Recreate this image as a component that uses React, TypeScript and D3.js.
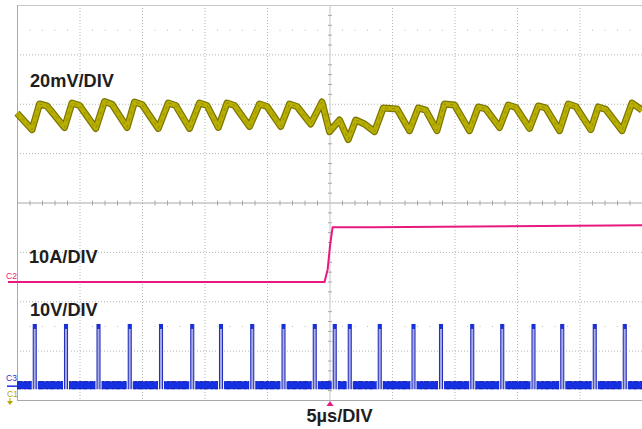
import * as d3 from "d3";

// time axis: 5 µs / div, 10 divs, trigger at centre
const timeDomain = [-25, 25];

// C1 - output ripple, mV (20mV/DIV)
const rippleTime = [
  -25.0, -23.8, -23.2, -22.6, -21.2, -20.6, -20.0, -18.7, -18.0, -17.4, -16.2, -15.6, -15.0,
  -13.7, -12.9, -12.3, -11.2, -10.4, -9.8, -8.9, -8.2, -7.6, -6.4, -5.6, -5.0, -3.9, -3.2,
  -2.6, -1.5, -0.6, 0.0, 0.8, 1.5, 2.1, 2.8, 3.6, 4.3, 5.4, 6.4, 7.1, 7.7, 8.6, 9.2, 10.0,
  11.2, 11.9, 12.5, 13.6, 14.3, 14.9, 16.0, 16.7, 17.3, 18.4, 19.1, 19.7, 20.9, 21.5, 22.1,
  23.4, 24.2, 25.0,
];
const rippleMv = [
  -0.6, -7.3, 3.1, 2.3, -6.4, 3.5, 2.5, -6.8, 4.1, 3.0, -6.4, 3.9, 2.9,
  -6.8, 3.5, 2.5, -6.8, 3.5, 2.5, -6.4, 3.5, 2.5, -6.0, 3.1, 2.1, -6.0, 3.1,
  2.1, -5.0, 3.9, -8.1, -3.4, -11.3, -3.4, -5.0, -8.1, 1.5, 1.1, -7.7, 1.5, 0.6, -7.7, 3.1, 2.7,
  -7.7, 1.9, 1.1, -6.4, 2.7, 1.7, -6.8, 2.3, 1.5, -7.7, 3.1, 2.1, -7.3, 1.9, 0.9,
  -7.7, 3.5, 0.6,
];

// C2 - inductor / load current, A (10A/DIV)
const currentTime = [-25, -0.4, -0.15, 0.05, 0.25, 3.5, 25];
const currentAmps = [0, 0, 2.5, 7.5, 11.1, 11.1, 11.5];

// C3 - switch node, V (10V/DIV)
const swStarts = [
  -23.7, -21.2, -18.6, -16.1, -13.6, -11.1, -8.8, -6.3, -3.8, -1.3, 0.3,
  1.5, 3.9, 6.6, 8.8, 11.3, 13.7, 16.2, 18.5, 21.1, 23.5,
];
const swOnTime = 0.16;
const swHigh = 12.4;
const swLow = 0;

const labels = { c1: "20mV/DIV", c2: "10A/DIV", c3: "10V/DIV", time: "5µs/DIV" };

const App = () => {
  const width = 642;
  const height = 429;
  const left = 17;
  const right = 642;
  const top = 5;
  const bottom = 400;

  const x = d3.scaleLinear().domain(timeDomain).range([left, right]);
  const div = d3.scaleLinear().domain([-4, 4]).range([bottom, top]);
  const divH = (bottom - top) / 8;

  // channel offset (divs) and scale (units/div)
  const y1 = (v: number) => div(1.84 + v / 20);
  const y2 = (v: number) => div(-1.61 + v / 10);
  const y3 = (v: number) => div(-3.7 + v / 10);

  const xTicks = d3.range(-25, 25.01, 5);
  const yTicks = d3.range(-4, 4.01, 1);
  const minorX = d3.range(-25, 25.01, 1);
  const minorY = d3.range(-4, 4.01, 0.2);

  const ripple = rippleTime.map((t, i) => [t, rippleMv[i]] as [number, number]);
  const current = currentTime.map((t, i) => [t, currentAmps[i]] as [number, number]);

  const line1 = d3.line<[number, number]>().x(d => x(d[0])).y(d => y1(d[1]));
  const line2 = d3.line<[number, number]>().x(d => x(d[0])).y(d => y2(d[1]));

  const grid = "#b4b4b4";
  const font = "'Liberation Sans', Arial, sans-serif";

  // sparse dot rows (half divisions)
  const dotRows = [div(3.5), div(-2.5)];
  const dotXs = minorX.filter(t => t % 5 !== 0).map(t => x(t));

  return (
    <svg width={width} height={height} style={{ position: "fixed", left: 0, top: 0, background: "#fff" }}>
      {/* grid */}
      <g>
        {xTicks.filter(t => t !== 0 && t !== -25 && t !== 25).map(t => (
          <line key={"vx" + t} x1={x(t) + 0.5} x2={x(t) + 0.5} y1={top} y2={bottom} stroke={grid} strokeDasharray="1 2" />
        ))}
        {yTicks.filter(v => v !== 0 && v !== -4 && v !== 4).map(v => (
          <line key={"hy" + v} x1={left} x2={right} y1={div(v) + 0.5} y2={div(v) + 0.5} stroke={grid} strokeDasharray="1 2" />
        ))}
        {dotRows.map((yy, r) => dotXs.map((xx, i) => (
          <rect key={"d" + r + "-" + i} x={xx} y={yy} width={1} height={1} fill="#bbb" />
        )))}
        {/* centre axes */}
        <line x1={left} x2={right} y1={div(0) + 0.5} y2={div(0) + 0.5} stroke="#a8a8a8" />
        <line x1={x(0) + 0.5} x2={x(0) + 0.5} y1={top} y2={bottom} stroke="#c4c4c4" />
        {minorX.filter(t => t % 5 !== 0).map(t => (
          <line key={"mx" + t} x1={x(t) + 0.5} x2={x(t) + 0.5} y1={div(0) - 2} y2={div(0) + 3} stroke="#a8a8a8" />
        ))}
        {minorY.filter(v => Math.abs(v - Math.round(v)) > 0.01).map(v => (
          <line key={"my" + v} x1={x(0) - 1.5} x2={x(0) + 2.5} y1={div(v) + 0.5} y2={div(v) + 0.5} stroke="#a8a8a8" />
        ))}
        {/* border */}
        <line x1={left} x2={right} y1={top + 0.5} y2={top + 0.5} stroke="#c8c8c8" />
        <line x1={left} x2={right} y1={bottom + 0.5} y2={bottom + 0.5} stroke="#a8a8a8" />
        <line x1={left + 0.5} x2={left + 0.5} y1={top} y2={bottom} stroke="#a8a8a8" />
      </g>

      {/* C3 switch node */}
      <g>
        <line x1={left} x2={right} y1={y3(swLow)} y2={y3(swLow)} stroke="#1530e0" strokeWidth={8} />
        <line x1={left} x2={right} y1={y3(swLow) - 3.5} y2={y3(swLow) - 3.5} stroke="#1a1fa8" strokeWidth={1} strokeDasharray="5 2 3 1" />
        <line x1={left} x2={right} y1={y3(swLow) + 3.5} y2={y3(swLow) + 3.5} stroke="#1a1fa8" strokeWidth={1} strokeDasharray="4 3 2 2" />
        {swStarts.map((t, i) => {
          const x0 = x(t);
          const x1 = x(t + swOnTime);
          const yh = y3(swHigh);
          const yl = y3(swLow) + 4;
          return (
            <g key={"p" + i}>
              <rect x={x0 - 1.5} y={yh} width={x1 - x0 + 4} height={yl - yh + 1} fill="#fff" />
              <rect x={x0} y={yh} width={x1 - x0 + 1} height={yl - yh} fill="#a8aeea" />
              <line x1={x0} x2={x0} y1={yh} y2={yl} stroke="#2a30b8" strokeWidth={1.1} />
              <line x1={x1 + 1} x2={x1 + 1} y1={yh} y2={yl} stroke="#2a30b8" strokeWidth={1.1} />
              <line x1={x0} x2={x1 + 1} y1={yh + 2.5} y2={yh + 2.5} stroke="#1530e0" strokeWidth={5} />
            </g>
          );
        })}
      </g>

      {/* C2 current */}
      <path d={line2(current) ?? ""} fill="none" stroke="#e8197e" strokeWidth={2} />
      <line x1={8} x2={left} y1={y2(0)} y2={y2(0)} stroke="#e8197e" strokeWidth={2} />

      {/* C1 ripple */}
      <path d={line1(ripple) ?? ""} fill="none" stroke="#7c7600" strokeWidth={7} strokeLinejoin="round" />
      <path d={line1(ripple) ?? ""} fill="none" stroke="#b8af00" strokeWidth={4.5} strokeLinejoin="round" />
      <path d={line1(ripple) ?? ""} fill="none" stroke="#8e8700" strokeWidth={0.8} strokeDasharray="3 4" strokeLinejoin="round" />

      {/* channel markers */}
      <g fontFamily={font} fontSize={8.5}>
        <text x={6} y={y2(0) - 3} fill="#e8197e">C2</text>
        <text x={6} y={y3(swLow) - 4} fill="#1a30d8">C3</text>
        <line x1={7} x2={left} y1={y3(swLow) + 1} y2={y3(swLow) + 1} stroke="#1a30d8" strokeWidth={1.5} />
        <text x={7} y={bottom - 3} fill="#b0a800">C1</text>
        <path d={`M7,${bottom + 1} L13,${bottom + 1} L10,${bottom + 5} Z`} fill="#b0a800" />
        <line x1={10} x2={10} y1={bottom - 2} y2={bottom + 1} stroke="#b0a800" />
      </g>

      {/* trigger marker */}
      <path d={`M${x(0) - 3},${bottom + 6} L${x(0) + 4},${bottom + 6} L${x(0) + 0.5},${bottom + 1} Z`} fill="#e8197e" />

      {/* scale labels */}
      <g fontFamily={font} fontWeight="bold" fontSize={18.2} fill="#1e1e1e">
        <text x={30} y={div(2.33)}>{labels.c1}</text>
        <text x={29} y={div(-1.22)}>{labels.c2}</text>
        <text x={30} y={div(-2.3)}>{labels.c3}</text>
        <text x={x(0) + 10} y={bottom + divH * 0.44} textAnchor="middle">{labels.time}</text>
      </g>
    </svg>
  );
};

export default App;
